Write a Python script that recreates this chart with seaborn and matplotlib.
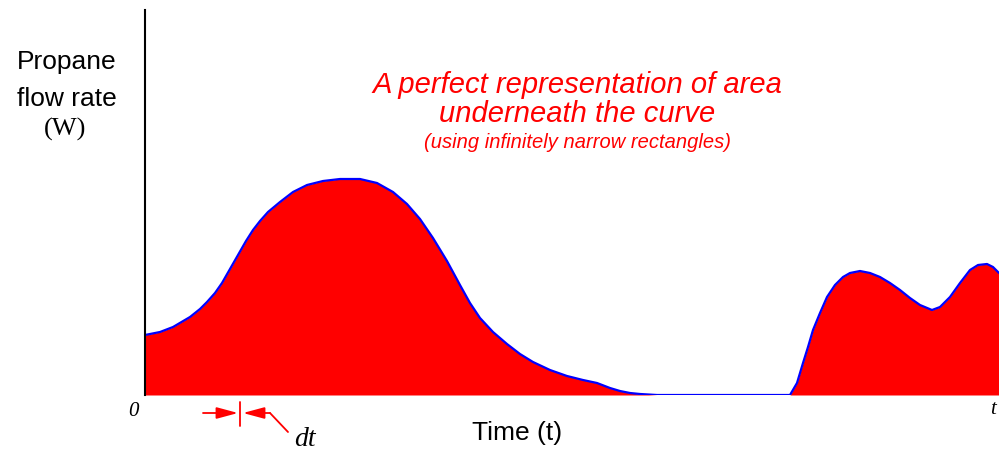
import pandas as pd
import seaborn as sns
import matplotlib.pyplot as plt

# time (arbitrary units) and propane flow rate
time = [0, 15, 28, 45, 55, 62, 70, 77, 85, 93, 101, 108, 115, 123, 135, 148,
        162, 178, 195, 215, 232, 248, 262, 275, 288, 302, 315, 325, 335, 348,
        362, 375, 388, 405, 422, 438, 452, 465, 475, 485, 495, 512,
        645, 652, 658, 663, 668, 675, 682, 690, 698, 705, 715, 725, 735, 745,
        755, 765, 775, 787, 795, 805, 815, 825, 833, 842, 848, 854]
flow = [60, 63, 68, 78, 86, 93, 102, 112, 126, 140, 154, 165, 174, 183, 193, 203,
        210, 214, 216, 216, 212, 203, 191, 176, 157, 134, 110, 92, 77, 63,
        51, 41, 33, 25, 19, 15, 12, 7, 4, 2, 1, 0,
        0, 12, 32, 48, 65, 82, 98, 110, 118, 122, 124, 122, 118, 112,
        105, 97, 90, 85, 88, 98, 112, 125, 130, 131, 128, 122]

df = pd.DataFrame({"t": time, "W": flow})

sns.set_style("white")

fig = plt.figure(figsize=(9.99, 4.5), dpi=100)
ax = fig.add_axes([145 / 999, 55 / 450, 854 / 999, 385 / 450])

ax.fill_between(df["t"], 0, df["W"], color="red", lw=0)
sns.lineplot(data=df, x="t", y="W", color="blue", lw=1.6, ax=ax, sort=False)

ax.set_xlim(0, 854)
ax.set_ylim(0, 385)
ax.set_xticks([])
ax.set_yticks([])
ax.set_xlabel("")
ax.set_ylabel("")
for s in ["top", "right", "bottom"]:
    ax.spines[s].set_visible(False)
ax.spines["left"].set_color("black")
ax.spines["left"].set_linewidth(1.5)

sans = "Liberation Sans"
serif = "Liberation Serif"


def fx(px):
    return px / 999


def fy(py):
    return 1 - py / 450


fig.text(fx(67), fy(62), "Propane", family=sans, fontsize=19, color="black", ha="center", va="center")
fig.text(fx(67), fy(99), "flow rate", family=sans, fontsize=19, color="black", ha="center", va="center")
fig.text(fx(65), fy(129), "(W)", family=serif, fontsize=19, color="black", ha="center", va="center")

fig.text(fx(577), fy(85), "A perfect representation of area", family=sans, style="italic",
         fontsize=21, color="red", ha="center", va="center")
fig.text(fx(577), fy(114), "underneath the curve", family=sans, style="italic",
         fontsize=21, color="red", ha="center", va="center")
fig.text(fx(577), fy(143), "(using infinitely narrow rectangles)", family=sans, style="italic",
         fontsize=14.5, color="red", ha="center", va="center")

fig.text(fx(517), fy(433), "Time (t)", family=sans, fontsize=19, color="black", ha="center", va="center")
fig.text(fx(133), fy(411), "0", family=serif, style="italic", fontsize=15, color="black", ha="center", va="center")
fig.text(fx(993), fy(410), "t", family=serif, style="italic", fontsize=15, color="black", ha="center", va="center")
fig.text(fx(305), fy(439), "dt", family=serif, style="italic", fontsize=20, color="black", ha="center", va="center")

# dt marker
arrow = dict(arrowstyle="-|>,head_length=1.3,head_width=0.35", color="red", lw=1.3,
             shrinkA=0, shrinkB=0)
ax.annotate("", xy=(fx(238), fy(413)), xytext=(fx(203), fy(413)),
            xycoords="figure fraction", textcoords="figure fraction", arrowprops=arrow)
ax.annotate("", xy=(fx(243), fy(413)), xytext=(fx(270), fy(413)),
            xycoords="figure fraction", textcoords="figure fraction", arrowprops=arrow)
fig.add_artist(plt.Line2D([fx(240), fx(240)], [fy(402), fy(426)], color="red", lw=1.3))
fig.add_artist(plt.Line2D([fx(270), fx(288)], [fy(413), fy(432)], color="red", lw=1.3))

fig.savefig("out.png", dpi=100)
